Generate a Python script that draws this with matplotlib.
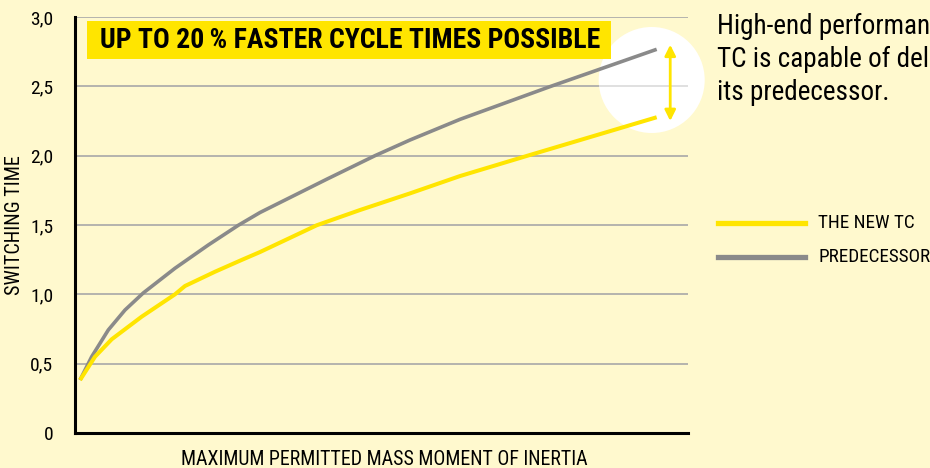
import matplotlib
matplotlib.use("Agg")
import matplotlib.pyplot as plt
from matplotlib.patches import Circle, Rectangle

plt.rcParams["font.family"] = ["Roboto Condensed", "DejaVu Sans"]

BG     = "#FFF9CE"
YELLOW = "#FFE500"
GREY   = "#8A8A8A"

# x read on a 0..100 scale across the axis, y in switching-time units
x_new = [0.82, 3.26, 5.99, 10.88, 16.31, 17.94, 22.84, 27.19, 30.18, 39.43, 46.49, 54.65, 62.81, 73.69, 94.89]
y_new = [0.382, 0.550, 0.676, 0.839, 1.000, 1.060, 1.163, 1.248, 1.305, 1.498, 1.608, 1.728, 1.853, 1.998, 2.277]
x_old = [0.82, 2.72, 5.43, 8.16, 11.14, 16.31, 21.75, 26.64, 30.18, 41.06, 48.94, 54.65, 62.81, 77.49, 94.89]
y_old = [0.382, 0.550, 0.743, 0.887, 1.010, 1.188, 1.356, 1.498, 1.590, 1.830, 2.000, 2.113, 2.262, 2.498, 2.767]

y_ticks = [0, 0.5, 1.0, 1.5, 2.0, 2.5, 3.0]
y_tick_labels = ["0", "0,5", "1,0", "1,5", "2,0", "2,5", "3,0"]

series_names = ["THE NEW TC", "PREDECESSOR"]
headline = "UP TO 20\u2009% FASTER CYCLE TIMES POSSIBLE"
side_text = ["High-end performance: the new", "TC is capable of delivering", "its predecessor."]

fig = plt.figure(figsize=(9.3, 4.68), dpi=100)
fig.patch.set_facecolor(BG)
ax = fig.add_axes([75 / 930, 35 / 468, 613 / 930, 416 / 468])
ax.set_facecolor(BG)

ax.set_xlim(0, 100)
ax.set_ylim(0, 3.0)
ax.set_yticks(y_ticks)
ax.set_yticklabels(y_tick_labels, fontsize=14)
ax.set_xticks([])
ax.tick_params(axis="y", length=0, pad=15.5)
ax.set_axisbelow(True)
ax.yaxis.grid(True, color="#A8A8A8", lw=1.2)

for s in ["top", "right"]:
    ax.spines[s].set_visible(False)
for s in ["left", "bottom"]:
    ax.spines[s].set_linewidth(2.2)
    ax.spines[s].set_color("black")

# white spot round the curve ends, grid shows faintly through it
circ = Circle((6.517, 3.88), 0.53, transform=fig.dpi_scale_trans,
              facecolor="white", edgecolor="none", zorder=1, clip_on=False)
ax.add_patch(circ)
for yv in y_ticks[1:]:
    gl = ax.axhline(yv, color="#DADADA", lw=1.2, zorder=1.5)
    gl.set_clip_path(circ)

ax.plot(x_old, y_old, color=GREY, lw=2.6, solid_capstyle="butt", solid_joinstyle="round", zorder=3)
ax.plot(x_new, y_new, color=YELLOW, lw=2.9, solid_capstyle="butt", solid_joinstyle="round", zorder=4)

ax.annotate("", xy=(97.1, 2.80), xytext=(97.1, 2.25),
            arrowprops=dict(arrowstyle="<|-|>", color=YELLOW, lw=2, mutation_scale=16,
                            shrinkA=0, shrinkB=0), zorder=5)

ax.set_ylabel("SWITCHING TIME", fontsize=14.5)
ax.yaxis.set_label_coords(-0.084, 0.5)
ax.set_xlabel("MAXIMUM PERMITTED MASS MOMENT OF INERTIA", fontsize=14.3, va="center")
ax.xaxis.set_label_coords(0.505, -0.063)

# headline box
fig.patches.append(Rectangle((0.87, 4.09), 5.24, 0.38, transform=fig.dpi_scale_trans,
                             facecolor=YELLOW, edgecolor="none", zorder=5))
fig.text(350 / 930, 428 / 468, headline, fontsize=20, fontweight="bold",
         ha="center", va="center", zorder=6)

# side text, cut by the right edge as in the original
for i, line in enumerate(side_text):
    fig.text(717 / 930, (468 - 33.5 - 33.3 * i) / 468, line, fontsize=19.5,
             ha="left", va="baseline")

# legend by hand
for i, (name, col) in enumerate(zip(series_names, [YELLOW, GREY])):
    yy = (468 - 223 - 34 * i) / 468
    fig.add_artist(plt.Line2D([718 / 930, 805 / 930], [yy, yy], color=col, lw=3.8,
                              transform=fig.transFigure))
    fig.text(818 / 930, yy, name, fontsize=13.8, ha="left", va="center")

fig.savefig("out.png", dpi=100, facecolor=BG)
